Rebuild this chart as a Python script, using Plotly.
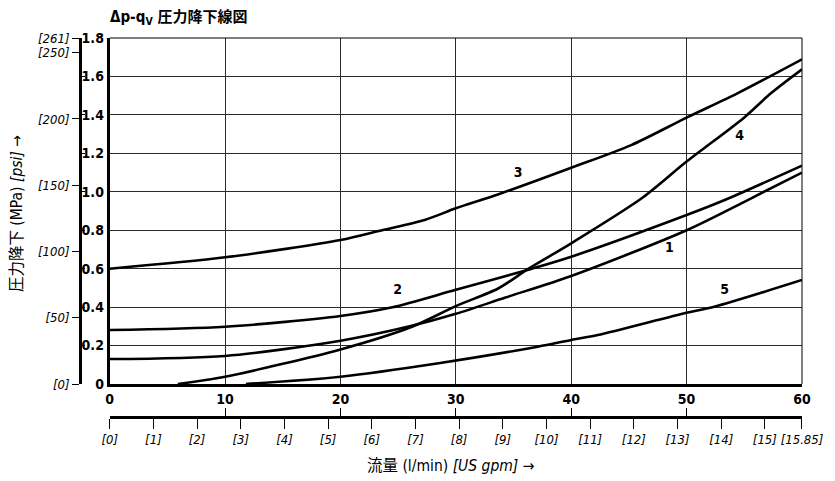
import plotly.graph_objects as go

# ---- data ----
q1 = [0, 10, 20, 26, 30, 34.3, 40, 50, 55.3, 60]
p1 = [0.13, 0.146, 0.225, 0.30, 0.365, 0.45, 0.562, 0.80, 0.957, 1.10]

q2 = [0, 10, 20, 24.5, 30, 36.6, 40, 50, 53.3, 60]
p2 = [0.281, 0.298, 0.354, 0.399, 0.49, 0.60, 0.662, 0.879, 0.957, 1.136]

q3 = [0, 10, 20, 23.6, 27.3, 30, 33.7, 40, 45.2, 50, 54.4, 60]
p3 = [0.60, 0.659, 0.749, 0.80, 0.853, 0.914, 0.987, 1.125, 1.243, 1.386, 1.512, 1.689]

q4 = [5.9, 10, 20, 26.2, 30, 33.7, 36.3, 40, 46.2, 50, 55, 57.3, 60]
p4 = [0, 0.038, 0.18, 0.298, 0.405, 0.498, 0.60, 0.732, 0.97, 1.157, 1.387, 1.512, 1.637]

q5 = [11.8, 20, 28.5, 37.1, 40, 42.3, 50, 52.4, 60]
p5 = [0, 0.038, 0.108, 0.194, 0.229, 0.255, 0.371, 0.402, 0.541]

curve_names = ["1", "2", "3", "4", "5"]
label_q = [48.5, 24.95, 35.4, 54.6, 53.3]
label_p = [0.705, 0.484, 1.093, 1.29, 0.489]

lmin_ticks = [0, 10, 20, 30, 40, 50, 60]
mpa_ticks = [0, 0.2, 0.4, 0.6, 0.8, 1.0, 1.2, 1.4, 1.6, 1.8]
mpa_text = ["0", "0.2", "0.4", "0.6", "0.8", "1.0", "1.2", "1.4", "1.6", "1.8"]
psi_ticks = [0, 50, 100, 150, 200, 250, 261]
psi_text = ["[0]", "[50]", "[100]", "[150]", "[200]", "[250]", "[261]"]
gpm_ticks = [0, 1, 2, 3, 4, 5, 6, 7, 8, 9, 10, 11, 12, 13, 14, 15, 15.85]
gpm_text = ["[0]", "[1]", "[2]", "[3]", "[4]", "[5]", "[6]", "[7]", "[8]", "[9]",
            "[10]", "[11]", "[12]", "[13]", "[14]", "[15]", "[15.85]"]

PSI_PER_MPA = 145.038
GPM_MAX = 15.8503

FONT = "DejaVu Sans Condensed, Liberation Sans Narrow, Noto Sans CJK JP, sans-serif"
CJK = "DejaVu Sans Condensed, Noto Sans CJK JP, sans-serif"

fig = go.Figure()
for q, p in [(q1, p1), (q2, p2), (q3, p3), (q4, p4), (q5, p5)]:
    fig.add_trace(go.Scatter(x=q, y=p, mode="lines",
                             line=dict(color="black", width=2.6, shape="spline", smoothing=0.8),
                             hoverinfo="skip", showlegend=False))
fig.add_trace(go.Scatter(x=label_q, y=label_p, mode="text", text=curve_names,
                         textfont=dict(family=FONT, size=14, color="black", weight="bold"),
                         hoverinfo="skip", showlegend=False))
# empty traces so the secondary axes are created
for xa, ya in [("x2", "y"), ("x3", "y"), ("x", "y2"), ("x", "y3")]:
    fig.add_trace(go.Scatter(x=[None], y=[None], xaxis=xa, yaxis=ya, mode="lines",
                             showlegend=False, hoverinfo="skip"))

# the page body has an 8px margin, so the figure is drawn 8px smaller and offset
OFF = 8
L, R, T, B = 40 - OFF, 30, 38 - OFF, 40
FW, FH = 835 - OFF, 481 - OFF
W, H = FW - L - R, FH - T - B
def px(xw):  # window pixel -> paper fraction
    return (xw - OFF - L) / W
def py(yw):
    return (FH - B - (yw - OFF)) / H

grid = "#2a2a2a"
fig.update_layout(
    width=FW, height=FH,
    margin=dict(l=L, r=R, t=T, b=B),
    plot_bgcolor="white", paper_bgcolor="white",
    showlegend=False,
    font=dict(family=FONT, color="black"),
    xaxis=dict(domain=[px(110), 1], range=[0, 60], tickvals=lmin_ticks,
               ticks="", showgrid=True, gridcolor=grid, gridwidth=1,
               showline=True, linewidth=3, linecolor="black", zeroline=False,
               tickfont=dict(family=FONT, size=14, weight="bold")),
    yaxis=dict(domain=[py(384), 1], range=[0, 1.8], tickvals=mpa_ticks, ticktext=mpa_text,
               ticks="", showgrid=True, gridcolor=grid, gridwidth=1,
               showline=True, linewidth=3, linecolor="black", zeroline=False,
               tickfont=dict(family=FONT, size=14, weight="bold")),
    yaxis2=dict(overlaying="y", anchor="free", position=px(80), side="left",
                range=[0, 1.8 * PSI_PER_MPA], tickvals=psi_ticks, ticktext=psi_text,
                ticks="outside", ticklen=7, tickwidth=1.2, tickcolor="black",
                showline=True, linewidth=2.5, linecolor="black",
                showgrid=False, zeroline=False,
                tickfont=dict(family=FONT, size=13, style="italic")),
    yaxis3=dict(overlaying="y", anchor="free", position=px(80), side="left",
                range=[0, 1.8], tickvals=mpa_ticks, ticks="inside", ticklen=4,
                tickwidth=1.2, tickcolor="black", showticklabels=False,
                showline=False, showgrid=False, zeroline=False),
    xaxis2=dict(overlaying="x", anchor="free", position=py(417), side="bottom",
                range=[0, GPM_MAX], tickvals=gpm_ticks, ticktext=gpm_text,
                ticks="outside", ticklen=10, tickwidth=1.2, tickcolor="black",
                showline=True, linewidth=2.5, linecolor="black",
                showgrid=False, zeroline=False,
                tickfont=dict(family=FONT, size=13, style="italic")),
    xaxis3=dict(overlaying="x", anchor="free", position=py(417), side="bottom",
                range=[0, 60], tickvals=lmin_ticks, ticks="inside", ticklen=9,
                tickwidth=1.2, tickcolor="black", showticklabels=False,
                showline=False, showgrid=False, zeroline=False),
)

# thin top and right frame
fig.add_shape(type="line", xref="x domain", yref="y domain", x0=0, x1=1, y0=1, y1=1,
              line=dict(color="black", width=1))
fig.add_shape(type="line", xref="x domain", yref="y domain", x0=1, x1=1, y0=0, y1=1,
              line=dict(color="black", width=1))

fig.add_annotation(text="<b>Δp-q<sub>V</sub> 圧力降下線図</b>", xref="paper", yref="paper",
                   x=px(108), y=py(17), xanchor="left", yanchor="middle", showarrow=False,
                   font=dict(family=CJK, size=15, color="black"))
fig.add_annotation(text="圧力降下 (MPa) <i>[psi]</i> →", xref="paper", yref="paper",
                   x=px(17), y=py(214), xanchor="center", yanchor="middle", textangle=-90,
                   showarrow=False, font=dict(family=CJK, size=15.5, color="black"))
fig.add_annotation(text="流量 (l/min) <i>[US gpm]</i> →", xref="paper", yref="paper",
                   x=px(452), y=py(466), xanchor="center", yanchor="middle",
                   showarrow=False, font=dict(family=CJK, size=15.5, color="black"))

fig.write_html("out.html")
